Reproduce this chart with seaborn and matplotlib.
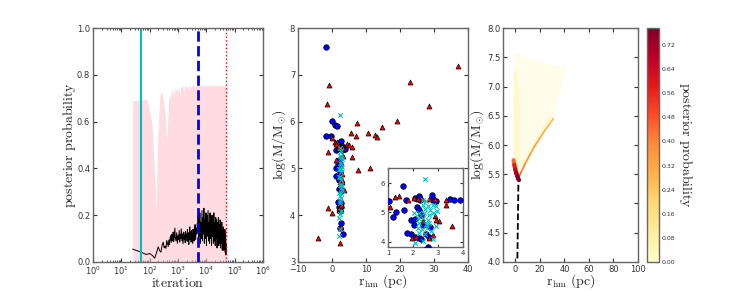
import numpy as np
import matplotlib
matplotlib.use("Agg")
import matplotlib.pyplot as plt
import seaborn as sns
from matplotlib.colors import Normalize
from matplotlib.cm import ScalarMappable

# Panel 1: chain trace (iteration, posterior probability)
chain_iter = [25, 50, 75, 100, 125, 150, 175, 200, 225, 250, 275, 300, 325, 350, 375, 400,
              425, 450, 475, 500, 525, 550, 575, 600, 625, 650, 675, 700, 725, 750, 775, 800,
              850, 900, 950, 1000, 1050, 1100, 1150, 1200, 1250, 1300, 1400, 1450, 1500, 1600,
              1650, 1700, 1800, 1850, 1900, 2000, 2100, 2150, 2200, 2300, 2400, 2450, 2500,
              2600, 2700, 2800, 2900, 3000, 3100, 3200, 3300, 3400, 3500, 3600, 3700, 3800,
              3900, 4000, 4200, 4400, 4600, 4800, 5000,
              5100, 5300, 5500, 5700, 5900, 6100, 6400, 6700, 7000, 7300, 7600, 7900, 8200,
              8500, 8900, 9300, 9700, 10100, 10500, 11000, 11500, 12000, 12500, 13000, 13500,
              14000, 14600, 15200, 15800, 16400, 17000, 17700, 18400, 19100, 19800, 20600,
              21400, 22200, 23000, 23900, 24800, 25700, 26600, 27600, 28600, 29600, 30700,
              31800, 32900, 34000, 35200, 36400, 37600, 38800, 40000, 41300, 42600, 43900,
              45200, 46500, 47800, 49000, 50000]
chain_prob = [0.055, 0.042, 0.032, 0.036, 0.028, 0.016, 0.040, 0.065, 0.048, 0.042, 0.072,
              0.085, 0.060, 0.068, 0.058, 0.092, 0.080, 0.066, 0.094, 0.074, 0.102, 0.112,
              0.084, 0.118, 0.090, 0.100, 0.128, 0.086, 0.098, 0.122, 0.145, 0.104,
              0.090, 0.125, 0.080, 0.112, 0.095, 0.135, 0.085, 0.118, 0.100, 0.142, 0.090,
              0.120, 0.078, 0.128, 0.098, 0.115, 0.082, 0.130, 0.105, 0.120, 0.088, 0.140,
              0.100, 0.125, 0.075, 0.118, 0.095, 0.150, 0.098, 0.128, 0.085, 0.135, 0.100,
              0.120, 0.080, 0.140, 0.105, 0.130, 0.090, 0.150, 0.110, 0.160, 0.095, 0.145,
              0.120, 0.165, 0.130,
              0.20, 0.09, 0.18, 0.11, 0.21, 0.08, 0.17, 0.10, 0.22, 0.09, 0.19, 0.12, 0.23,
              0.08, 0.18, 0.10, 0.21, 0.07, 0.20, 0.11, 0.22, 0.09, 0.17, 0.08, 0.21,
              0.10, 0.19, 0.07, 0.20, 0.11, 0.18, 0.08, 0.21, 0.09, 0.17, 0.07,
              0.19, 0.10, 0.18, 0.06, 0.17, 0.09, 0.19, 0.07, 0.16, 0.08, 0.18,
              0.06, 0.15, 0.08, 0.17, 0.05, 0.14, 0.07, 0.15, 0.05, 0.13, 0.06,
              0.14, 0.04, 0.12, 0.03, 0.08]

pink_iter = [25, 40, 55, 70, 80, 90, 105, 119, 135, 150, 164, 175, 190, 205, 230, 268, 300,
             330, 365, 400, 430, 460, 500, 540, 580, 620, 660, 700, 750, 800, 860, 930, 1000,
             1080, 1160, 1250, 1350, 1460, 1580, 1700, 1840, 2000, 2200, 2400, 2600, 2850,
             3100, 3400, 3700, 4000, 4400, 4800, 5300, 5800, 6400, 7000, 7700, 8500, 9400,
             10300, 11300, 12500, 13800, 15200, 16700, 18400, 20300, 22400, 24700, 27200,
             30000, 33000, 36400, 40000, 44000, 48000, 50000]
pink_upper = [0.690, 0.690, 0.694, 0.697, 0.690, 0.664, 0.630, 0.594, 0.490, 0.350, 0.222,
              0.350, 0.500, 0.600, 0.720, 0.725, 0.700, 0.660, 0.590, 0.515, 0.600, 0.680,
              0.722, 0.700, 0.735, 0.738, 0.700, 0.742, 0.720, 0.748, 0.730, 0.750, 0.725,
              0.752, 0.705, 0.755, 0.745, 0.757, 0.730, 0.757, 0.745, 0.758, 0.740, 0.758,
              0.750, 0.745, 0.758, 0.752, 0.758, 0.748, 0.758, 0.752, 0.758, 0.750, 0.758,
              0.752, 0.758, 0.748, 0.758, 0.752, 0.758, 0.750, 0.758, 0.752, 0.758, 0.748,
              0.758, 0.752, 0.758, 0.750, 0.758, 0.752, 0.758, 0.750, 0.758, 0.752, 0.755]

burn_in = 50
thin_mark = 5000
chain_end = 50000

# Panel 2: scatter of cluster estimates (r_hm, log M)
red_r = [-4.0, 2.5, -1.1, -0.1, 7.7, 11.2, -1.1, 6.0, -0.8, -1.5, 7.25, 14.8, 5.6, 10.6,
         12.6, 13.2, 7.0, 19.0, 22.9, 28.5, 37.0, 4.3, 5.0, 5.8, 0.1, 0.9, 2.7,
         1.43, 1.29, 1.08, 2.19, 2.05, 2.35, 2.65, 2.89, 3.32, 3.32, 2.89, 3.05, 2.92,
         3.56, 1.96, 2.12, 2.65, 2.79, 2.39, 1.79]
red_m = [3.52, 3.41, 4.15, 4.04, 4.97, 5.01, 5.34, 5.24, 6.78, 6.38, 5.96, 5.88, 5.76, 5.75,
         5.71, 5.67, 5.69, 6.02, 6.84, 6.33, 7.19, 5.53, 5.50, 5.46, 5.66, 5.57, 3.75,
         5.57, 5.52, 5.18, 5.45, 5.48, 5.46, 5.45, 5.46, 5.43, 5.26, 4.89, 4.70, 4.75,
         4.53, 4.11, 4.16, 4.14, 4.22, 4.70, 5.43]

blue_r = [-1.8, -0.1, 0.9, -1.8, -0.3, 3.3, 2.5,
          1.59, 1.05, 1.19, 1.32, 1.72, 1.65, 2.09, 2.23, 2.29, 2.25, 2.76, 2.92, 2.79,
          3.48, 3.65, 3.89, 2.16, 2.23, 2.32, 1.92, 2.09, 2.05, 1.92, 2.09, 2.25, 2.32,
          2.52, 2.65, 2.59, 1.75, 2.39, 2.69]
blue_m = [7.60, 6.01, 5.93, 5.69, 5.69, 3.60, 3.72,
          5.90, 5.39, 4.84, 5.01, 5.43, 5.09, 5.48, 5.52, 5.43, 5.56, 5.58, 5.40, 5.43,
          5.46, 5.42, 5.42, 5.17, 5.09, 4.92, 4.75, 4.78, 4.56, 4.25, 4.17, 4.14, 4.10,
          4.25, 4.17, 3.83, 4.28, 4.58, 4.51]

cyan_r = [2.2, 2.3, 2.48, 2.41, 2.52, 2.39, 2.59, 2.79, 2.92, 2.49, 2.68, 2.25, 2.45, 2.63,
          2.79, 2.19, 2.39, 2.59, 2.25, 2.52, 2.65, 2.19, 2.36, 2.55, 2.72, 2.25, 2.49,
          2.79, 2.39, 2.09, 2.92, 2.95, 2.05]
cyan_m = [3.56, 3.70, 6.15, 5.43, 5.37, 5.26, 5.22, 5.26, 5.20, 5.11, 5.09, 4.98, 4.98, 4.92,
          4.98, 4.81, 4.81, 4.75, 4.64, 4.59, 4.64, 4.47, 4.42, 4.47, 4.36, 4.30, 4.25,
          4.08, 4.02, 3.95, 4.53, 5.03, 4.98]

# Panel 3: posterior density pieces
fan_r = [-1.5, -1.5, 3, 9, 20, 30, 42, 38, 31, 20, 12, 5, 2.5, 0.5]
fan_m = [5.6, 7.55, 7.58, 7.47, 7.42, 7.38, 7.33, 7.0, 6.45, 6.1, 5.82, 5.52, 5.35, 5.45]
fan_p = 0.02
strip_r = [-1.3, -1.3, 1, 3, 4, 4, 2.5]
strip_m = [5.7, 7.2, 7.3, 7.0, 6.3, 5.6, 5.45]
strip_p = 0.06
band_r = [3, 31, 28, 15, 5]
band_m = [5.45, 6.45, 6.52, 6.05, 5.68]
band_p = 0.05
ridge_r = [2.8, 5, 8, 12, 16, 20, 24, 28, 31]
ridge_m = [5.45, 5.55, 5.68, 5.84, 5.99, 6.12, 6.25, 6.36, 6.45]
ridge_p = [0.45, 0.40, 0.36, 0.34, 0.32, 0.30, 0.29, 0.27, 0.25]
peak_r = [-1.4, -0.8, 0.0, 0.8, 1.6, 2.4, 3.0]
peak_m = [5.74, 5.66, 5.58, 5.52, 5.47, 5.42, 5.40]
peak_p = [0.45, 0.58, 0.66, 0.72, 0.76, 0.77, 0.70]
dash_r = [1.7, 2.5]
dash_m = [4.06, 5.32]
cbar_max = 0.776
cbar_ticks = [0.00, 0.08, 0.16, 0.24, 0.32, 0.40, 0.48, 0.56, 0.64, 0.72]

sns.set_style("ticks")
plt.rcParams.update({
    "mathtext.fontset": "cm",
    "axes.edgecolor": "0.4",
    "axes.linewidth": 1.0,
    "xtick.direction": "in",
    "ytick.direction": "in",
    "xtick.top": True,
    "ytick.right": True,
    "xtick.major.size": 3,
    "ytick.major.size": 3,
    "xtick.minor.size": 1.5,
    "ytick.minor.size": 1.5,
    "xtick.major.pad": 2,
    "ytick.major.pad": 2,
    "xtick.labelsize": 6,
    "ytick.labelsize": 6,
    "xtick.color": "0.2",
    "ytick.color": "0.2",
})

fig = plt.figure(figsize=(7.47, 2.91), dpi=100)
ax1 = fig.add_axes([0.1245, 0.0997, 0.2276, 0.804])
ax2 = fig.add_axes([0.3989, 0.0997, 0.2276, 0.804])
ax3 = fig.add_axes([0.6734, 0.0997, 0.1807, 0.804])
cax = fig.add_axes([0.8661, 0.0997, 0.0161, 0.804])
axin = fig.add_axes([0.5194, 0.1495, 0.1004, 0.272])

lab = 10

# ---- panel 1
ax1.fill_between(pink_iter, 0, pink_upper, color="pink", alpha=0.55, lw=0)
sns.lineplot(x=chain_iter, y=chain_prob, color="k", lw=0.7, ax=ax1, estimator=None, sort=False)
ax1.axvline(burn_in, color="c", lw=1.5)
ax1.axvline(thin_mark, color="b", ls="--", lw=2)
ax1.axvline(chain_end, color="r", ls=":", lw=1)
ax1.set_xscale("log")
ax1.set_xlim(1, 1e6)
ax1.set_ylim(0, 1)
ax1.set_yticks([0.0, 0.2, 0.4, 0.6, 0.8, 1.0])
ax1.set_yticklabels(["0.0", "0.2", "0.4", "0.6", "0.8", "1.0"])
ax1.set_xlabel(r"$\mathrm{iteration}$", fontsize=lab, labelpad=-1)
ax1.set_ylabel(r"$\mathrm{posterior\ probability}$", fontsize=lab, labelpad=-1)

# ---- panel 2
for ax in (ax2, axin):
    sns.scatterplot(x=blue_r, y=blue_m, marker="o", color="b", edgecolor="k", linewidth=0.5,
                    s=16, ax=ax, zorder=3)
    sns.scatterplot(x=red_r, y=red_m, marker="^", color="r", edgecolor="k", linewidth=0.5,
                    s=13, ax=ax, zorder=4)
    sns.scatterplot(x=cyan_r, y=cyan_m, marker="x", color="c", linewidth=0.8,
                    s=10, ax=ax, zorder=5)
ax2.set_xlim(-10, 40)
ax2.set_ylim(3, 8)
ax2.set_xticks([-10, 0, 10, 20, 30, 40])
ax2.set_yticks([3, 4, 5, 6, 7, 8])
ax2.set_xlabel(r"$\mathrm{r_{hm}\ (pc)}$", fontsize=lab, labelpad=-1)
ax2.set_ylabel(r"$\log(\mathrm{M}/\mathrm{M}_{\odot})$", fontsize=lab, labelpad=1)

axin.set_xlim(1, 4)
axin.set_ylim(3.8, 6.5)
axin.set_xticks([1, 2, 3, 4])
axin.set_yticks([4, 5, 6])
axin.tick_params(labelsize=5, length=2)

# ---- panel 3
cmap = plt.get_cmap("YlOrRd")
norm = Normalize(0, cbar_max)
ax3.fill(fan_r, fan_m, color=cmap(norm(fan_p)), alpha=0.35, lw=0)
ax3.fill(strip_r, strip_m, color=cmap(norm(strip_p)), alpha=0.5, lw=0)
ax3.fill(band_r, band_m, color=cmap(norm(band_p)), alpha=0.5, lw=0)
for i in range(len(ridge_r) - 1):
    ax3.plot(ridge_r[i:i + 2], ridge_m[i:i + 2], color=cmap(norm(ridge_p[i])), lw=1.2,
             solid_capstyle="round")
for i in range(len(peak_r) - 1):
    ax3.plot(peak_r[i:i + 2], peak_m[i:i + 2], color=cmap(norm(peak_p[i])), lw=3,
             solid_capstyle="round")
ax3.plot(dash_r, dash_m, "k--", lw=1.3)
ax3.set_xlim(-10, 100)
ax3.set_ylim(4, 8)
ax3.set_xticks([0, 20, 40, 60, 80, 100])
ax3.set_yticks([4.0, 4.5, 5.0, 5.5, 6.0, 6.5, 7.0, 7.5, 8.0])
ax3.set_yticklabels(["4.0", "4.5", "5.0", "5.5", "6.0", "6.5", "7.0", "7.5", "8.0"])
ax3.set_xlabel(r"$\mathrm{r_{hm}\ (pc)}$", fontsize=lab, labelpad=-1)
ax3.set_ylabel(r"$\log(\mathrm{M}/\mathrm{M}_{\odot})$", fontsize=lab, labelpad=1)

sm = ScalarMappable(norm=norm, cmap=cmap)
cb = fig.colorbar(sm, cax=cax, ticks=cbar_ticks)
cb.ax.set_yticklabels([f"{t:.2f}" for t in cbar_ticks])
cb.ax.tick_params(labelsize=4.5, length=2, direction="in", right=True)
cb.outline.set_edgecolor("0.4")
cb.set_label(r"$\mathrm{posterior\ probability}$", fontsize=lab, rotation=270, labelpad=13)

plt.savefig("out.png", dpi=100)
